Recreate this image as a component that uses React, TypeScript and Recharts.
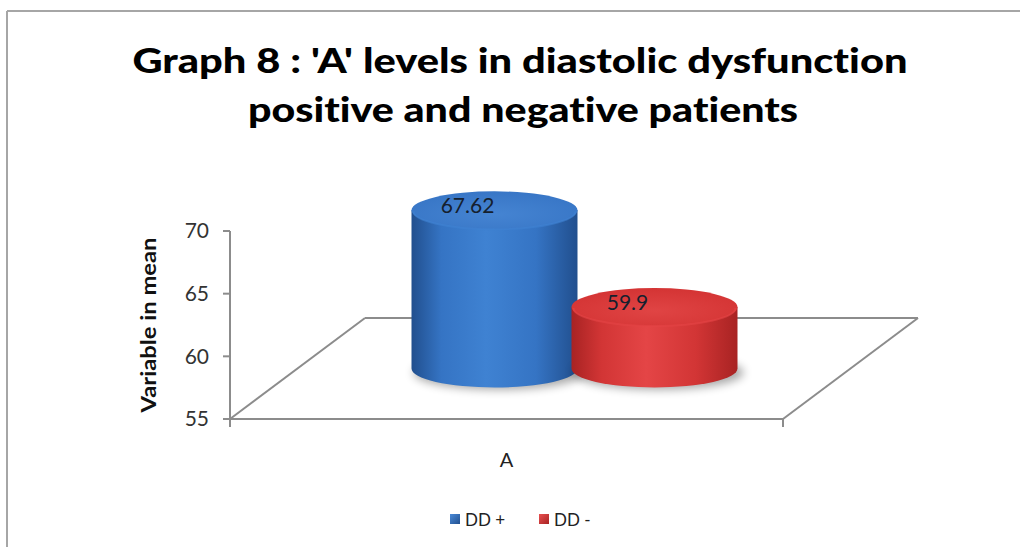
import { BarChart, Bar, XAxis, YAxis, LabelList } from 'recharts';

const categories = ['A'];
const ddPositive = [67.62];
const ddNegative = [59.9];
const yTicks = [55, 60, 65, 70];
const seriesNames = ['DD +', 'DD -'];

const data = categories.map((name, i) => ({
  name,
  ddPos: ddPositive[i],
  ddNeg: ddNegative[i],
}));

const W = 1020;
const H = 547;
// front plane of the plot area and how far the floor runs back
const PLOT = { left: 230, right: 783, top: 231, bottom: 419 };
const DEPTH = { dx: 135, dy: -101 };
// cylinders stand halfway into the floor
const MID = { dx: DEPTH.dx / 2, dy: DEPTH.dy / 2 };
const RY = 19;
const AXIS = '#8c8c8c';
const FONT = 'Lato, "Open Sans", sans-serif';
const NO_LIGA = { fontVariantLigatures: 'none' as const, fontFeatureSettings: '"liga" 0, "dlig" 0' };

const PALETTE = {
  blue: { dark: '#214f8e', mid: '#3574c4', light: '#3f82d2', top: '#3876c6', topLight: '#4584d2' },
  red: { dark: '#a82323', mid: '#d23535', light: '#e44546', top: '#d43434', topLight: '#e04444' },
};

type Tone = keyof typeof PALETTE;

function Cylinder(props: any, tone: Tone) {
  const { x, y, width, height } = props;
  if (width == null || height == null) return null;
  const rx = width / 2;
  const cx = x + width / 2 + MID.dx;
  const top = y + MID.dy;
  const bottom = y + height + MID.dy;
  const body = `M ${cx - rx} ${top} L ${cx - rx} ${bottom} A ${rx} ${RY} 0 0 0 ${cx + rx} ${bottom} L ${cx + rx} ${top} Z`;
  return (
    <g>
      <ellipse cx={cx + 4} cy={bottom + 4} rx={rx + 2} ry={RY - 2} fill="#000" opacity={0.35} filter="url(#cylShadow)" />
      <path d={body} fill={`url(#body-${tone})`} />
      <ellipse cx={cx} cy={top} rx={rx} ry={RY} fill={`url(#top-${tone})`} />
      <path
        d={`M ${cx - rx + 2} ${top + 1} A ${rx - 2} ${RY - 1} 0 0 0 ${cx + rx - 2} ${top + 1}`}
        fill="none"
        stroke={PALETTE[tone].light}
        strokeWidth={2}
        opacity={0.6}
      />
    </g>
  );
}

function ValueLabel(props: any) {
  const { x, y, width, value } = props;
  const cx = x + width / 2 + MID.dx;
  return (
    <text x={cx - 27} y={y + MID.dy + 3} textAnchor="middle" fontFamily={FONT} fontSize={21} fill="#15202e">
      {value}
    </text>
  );
}

function Gradients() {
  return (
    <defs>
      {(Object.keys(PALETTE) as Tone[]).map((t) => (
        <g key={t}>
          <linearGradient id={`body-${t}`} x1="0" y1="0" x2="1" y2="0">
            <stop offset="0%" stopColor={PALETTE[t].dark} />
            <stop offset="18%" stopColor={PALETTE[t].mid} />
            <stop offset="45%" stopColor={PALETTE[t].light} />
            <stop offset="75%" stopColor={PALETTE[t].mid} />
            <stop offset="100%" stopColor={PALETTE[t].dark} />
          </linearGradient>
          <radialGradient id={`top-${t}`} cx="50%" cy="60%" r="60%">
            <stop offset="0%" stopColor={PALETTE[t].topLight} />
            <stop offset="100%" stopColor={PALETTE[t].top} />
          </radialGradient>
        </g>
      ))}
      <filter id="cylShadow" x="-20%" y="-50%" width="140%" height="200%">
        <feGaussianBlur stdDeviation="5" />
      </filter>
    </defs>
  );
}

function Backdrop() {
  const { left, right, bottom } = PLOT;
  const back = bottom + DEPTH.dy;
  return (
    <svg width={W} height={H} style={{ position: 'absolute', left: 0, top: 0 }}>
      {/* chart frame */}
      <line x1={7} y1={11} x2={W} y2={11} stroke="#a6a6a6" strokeWidth={2} />
      <line x1={7} y1={11} x2={7} y2={H} stroke="#a6a6a6" strokeWidth={2} />

      <g style={NO_LIGA}>
        <text x={520} y={73} textAnchor="middle" fontFamily={FONT} fontWeight={900} fontSize={35} fill="#000"
          textLength={775} lengthAdjust="spacingAndGlyphs">
          Graph 8 : 'A' levels in diastolic dysfunction
        </text>
        <text x={523} y={122} textAnchor="middle" fontFamily={FONT} fontWeight={900} fontSize={35} fill="#000"
          textLength={550} lengthAdjust="spacingAndGlyphs">
          positive and negative patients
        </text>
      </g>

      {/* floor of the 3d plot */}
      <g stroke={AXIS} strokeWidth={2} fill="none">
        <line x1={left} y1={bottom} x2={left + DEPTH.dx} y2={back} />
        <line x1={left + DEPTH.dx} y1={back} x2={right + DEPTH.dx} y2={back} />
        <line x1={right + DEPTH.dx} y1={back} x2={right} y2={bottom} />
        <line x1={left} y1={bottom} x2={left} y2={bottom + 8} />
        <line x1={right} y1={bottom} x2={right} y2={bottom + 8} />
      </g>

      <text transform="translate(156 325) rotate(-90)" textAnchor="middle" fontFamily={FONT} fontWeight={700}
        fontSize={20} fill="#111" textLength={175} lengthAdjust="spacingAndGlyphs">
        Variable in mean
      </text>

      {/* legend */}
      <g fontFamily={FONT} fontSize={17} fill="#222">
        <rect x={450} y={514} width={10} height={10} fill="url(#legBlue)" />
        <text x={465} y={526}>{seriesNames[0]}</text>
        <rect x={539} y={514} width={10} height={10} fill="url(#legRed)" />
        <text x={554} y={526}>{seriesNames[1]}</text>
      </g>
      <defs>
        <linearGradient id="legBlue" x1="0" y1="0" x2="1" y2="1">
          <stop offset="0%" stopColor="#4a8ad8" />
          <stop offset="100%" stopColor="#21508f" />
        </linearGradient>
        <linearGradient id="legRed" x1="0" y1="0" x2="1" y2="1">
          <stop offset="0%" stopColor="#e85050" />
          <stop offset="100%" stopColor="#a82323" />
        </linearGradient>
      </defs>
    </svg>
  );
}

const Y_AXIS_W = 60;
const X_AXIS_H = 30;

export default function App() {
  return (
    <div style={{ position: 'absolute', left: 0, top: 0, width: W, height: H, background: '#fff' }}>
      <Backdrop />
      <div style={{ position: 'absolute', left: 0, top: 0 }}>
        <BarChart
          width={W}
          height={H}
          data={data}
          barSize={166}
          barGap={-6}
          margin={{
            top: PLOT.top,
            right: W - PLOT.right,
            bottom: H - PLOT.bottom - X_AXIS_H,
            left: PLOT.left - Y_AXIS_W,
          }}
        >
          <Gradients />
          <XAxis
            dataKey="name"
            height={X_AXIS_H}
            axisLine={{ stroke: AXIS, strokeWidth: 2 }}
            tickLine={false}
            tickSize={6}
            tickMargin={28}
            tick={{ fontFamily: FONT, fontSize: 20, fill: '#222' }}
          />
          <YAxis
            width={Y_AXIS_W}
            domain={[55, 70]}
            ticks={yTicks}
            axisLine={{ stroke: AXIS, strokeWidth: 2 }}
            tickLine={{ stroke: AXIS, strokeWidth: 2 }}
            tickSize={7}
            tickMargin={14}
            tick={{ fontFamily: FONT, fontSize: 21, fill: '#333' }}
          />
          <Bar dataKey="ddPos" name={seriesNames[0]} isAnimationActive={false} shape={(p: any) => Cylinder(p, 'blue')}>
            <LabelList dataKey="ddPos" content={ValueLabel} />
          </Bar>
          <Bar dataKey="ddNeg" name={seriesNames[1]} isAnimationActive={false} shape={(p: any) => Cylinder(p, 'red')}>
            <LabelList dataKey="ddNeg" content={ValueLabel} />
          </Bar>
        </BarChart>
      </div>
    </div>
  );
}
